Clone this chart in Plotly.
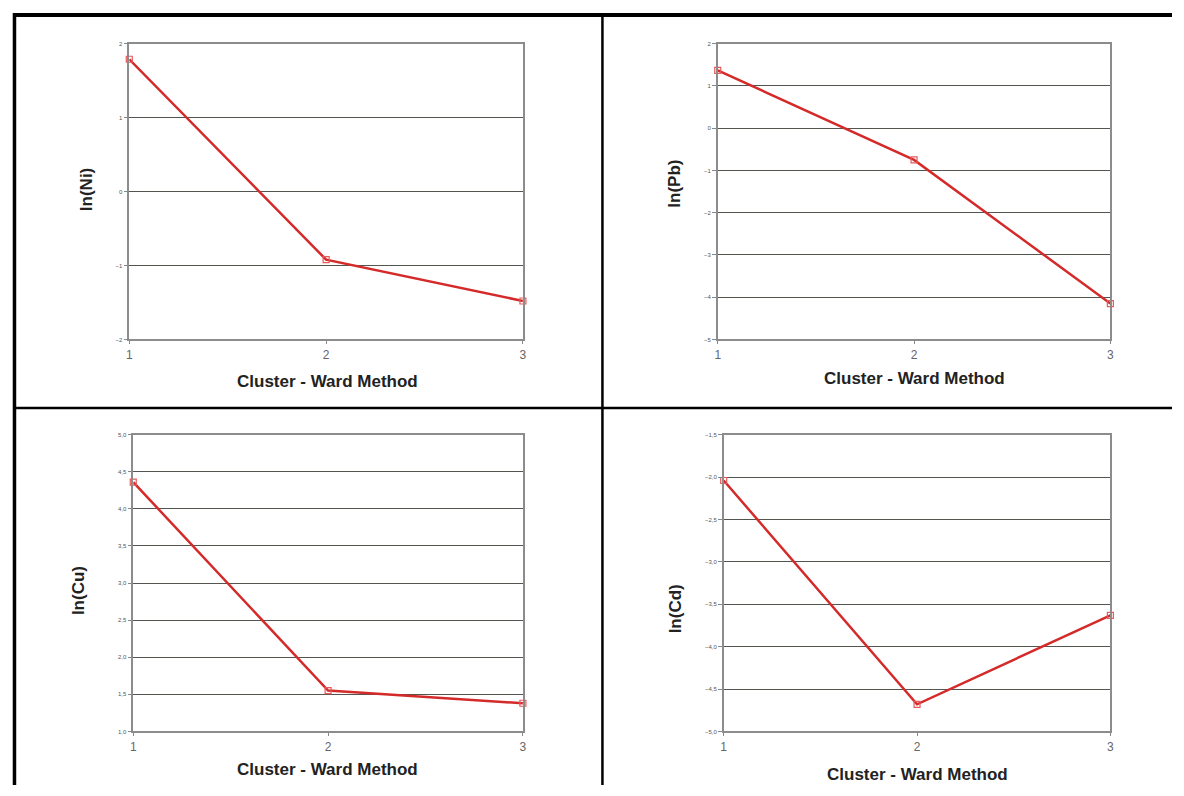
import plotly.graph_objects as go

VW, VH = 1184, 796      # browser window
OFF = 8                 # default page margin around the plot div
W, H = VW - 2 * OFF, VH - 2 * OFF

clusters = [1, 2, 3]
ln_ni = [1.79, -0.92, -1.48]
ln_pb = [1.37, -0.75, -4.15]
ln_cu = [4.36, 1.55, 1.38]
ln_cd = [-2.04, -4.68, -3.63]

y_titles = ["ln(Ni)", "ln(Pb)", "ln(Cu)", "ln(Cd)"]
x_title = "Cluster - Ward Method"
y_ranges = [[-2, 2], [-5, 2], [1.0, 5.0], [-5.0, -1.5]]
y_dticks = [1, 1, 0.5, 0.5]
y_formats = ["d", "d", ".1f", ".1f"]
series = [ln_ni, ln_pb, ln_cu, ln_cd]

# panel pixel boxes in window coords: (left, right, top, bottom)
boxes = [(127, 523, 41, 339), (719, 1114, 41, 339), (131, 523, 435, 734), (725, 1114, 435, 734)]
ytitle_pos = [(84, 188), (676, 182), (76, 592), (676, 610)]
xtitle_pos = [(326, 381), (917, 378), (326, 772), (920, 777)]


def px(x):
    return (x - OFF) / W


def py(y):
    return 1 - (y - OFF) / H


fig = go.Figure()
for i in range(4):
    l, r, t, b = boxes[i]
    ax = "" if i == 0 else str(i + 1)
    fig.add_trace(go.Scatter(
        x=clusters, y=series[i], mode="lines+markers",
        line=dict(color="#d42a2a", width=2.5),
        marker=dict(symbol="square-open", size=6, color="#e85a5a", line=dict(width=1.2)),
        cliponaxis=False, showlegend=False,
        xaxis="x" + ax, yaxis="y" + ax,
    ))
    fig.layout["xaxis" + ax] = dict(
        domain=[px(l), px(r)], range=[1, 3], anchor="y" + ax,
        tickvals=clusters, ticks="outside", ticklen=3, tickcolor="#888",
        tickfont=dict(family="Liberation Sans, Arial", size=12, color="#666"),
        showgrid=False, zeroline=False, showline=True, mirror=True,
        linecolor="#8c8c8c", linewidth=1.5, fixedrange=True,
    )
    fig.layout["yaxis" + ax] = dict(
        domain=[py(b), py(t)], range=y_ranges[i], anchor="x" + ax,
        dtick=y_dticks[i], tick0=y_ranges[i][0], tickformat=y_formats[i],
        ticks="outside", ticklen=4, tickcolor="#888",
        tickfont=dict(family="Liberation Sans, Arial", size=6, color="#555"),
        showgrid=True, gridcolor="#55554f", gridwidth=1.2,
        zeroline=False, showline=True, mirror=True,
        linecolor="#8c8c8c", linewidth=1.5, fixedrange=True,
    )
    yx, yy = ytitle_pos[i]
    fig.add_annotation(x=px(yx), y=py(yy), xref="paper", yref="paper",
                       xanchor="center", yanchor="middle",
                       text="<b>" + y_titles[i] + "</b>", textangle=-90, showarrow=False,
                       font=dict(family="Liberation Sans, Arial", size=17, color="#222"))
    xx, xy = xtitle_pos[i]
    fig.add_annotation(x=px(xx), y=py(xy), xref="paper", yref="paper",
                       xanchor="center", yanchor="middle",
                       text="<b>" + x_title + "</b>", showarrow=False,
                       font=dict(family="Liberation Sans, Arial", size=17, color="#222"))


def hline(y, x0, x1, w):
    fig.add_shape(type="line", xref="paper", yref="paper", x0=px(x0), x1=px(x1),
                  y0=py(y), y1=py(y), line=dict(color="black", width=w))


def vline(x, y0, y1, w):
    fig.add_shape(type="line", xref="paper", yref="paper", x0=px(x), x1=px(x),
                  y0=py(y0), y1=py(y1), line=dict(color="black", width=w))


hline(12, 10, VW - OFF, 4)
vline(11.5, 10, VH - OFF, 3.5)
vline(603, 12, VH - OFF, 2.5)
hline(408, 11, VW - OFF, 2.5)

fig.update_layout(
    width=W, height=H, margin=dict(l=0, r=0, t=0, b=0),
    paper_bgcolor="white", plot_bgcolor="white",
    separators=",.",
)
fig.write_html("out.html")
